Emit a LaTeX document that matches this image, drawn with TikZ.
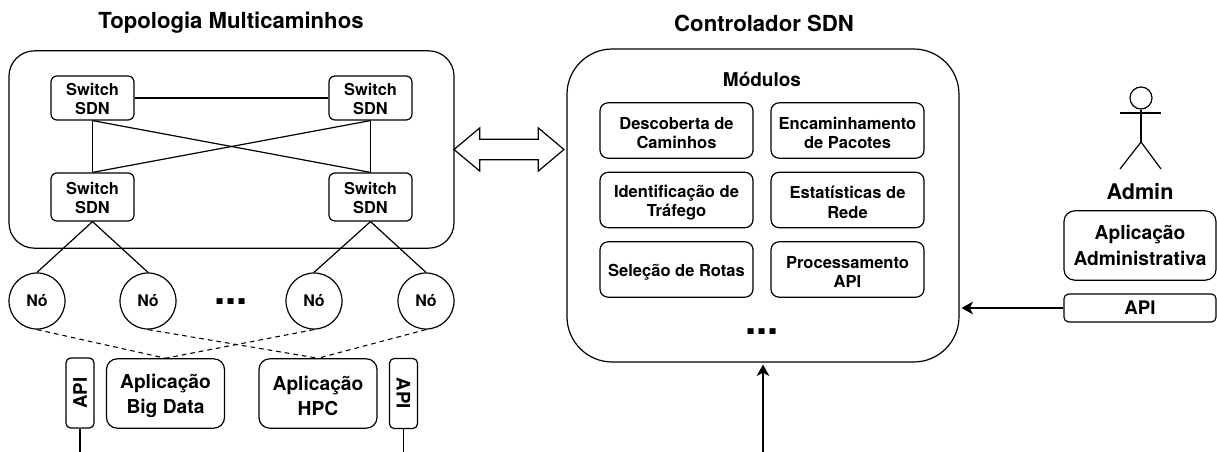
\documentclass[tikz,border=0pt]{standalone}
\usepackage{fontspec}
\setmainfont{TeX Gyre Heros}
\usetikzlibrary{arrows.meta,positioning,calc}
\usetikzlibrary{shapes.arrows}
\newcommand{\lowA}{\rule{0pt}{11pt}}
\newcommand{\lowB}{\rule{0pt}{13pt}}
\newcommand{\lowC}{\rule{0pt}{14.5pt}}
\tikzstyle{tS}=[inner sep=0pt,font=\bfseries\fontsize{16.6}{19}\selectfont]
\tikzstyle{dS}=[inner sep=0pt,font=\bfseries\fontsize{30}{30}\selectfont]
\tikzstyle{bigS}=[rectangle,draw,line width=0.9pt,inner sep=0pt]
\tikzstyle{swS}=[rectangle,draw,line width=0.9pt,rounded corners=4.5pt,inner sep=0pt,align=center,minimum width=62.25pt,font=\bfseries\fontsize{12.3}{14.5}\selectfont]
\tikzstyle{modS}=[rectangle,draw,line width=0.9pt,rounded corners=6pt,inner sep=0pt,align=center,minimum width=114.75pt,minimum height=41.5pt,font=\bfseries\fontsize{12.4}{14.6}\selectfont]
\tikzstyle{appS}=[rectangle,draw,line width=0.9pt,rounded corners=8pt,inner sep=0pt,align=center,minimum height=52pt,font=\bfseries\fontsize{14.4}{19}\selectfont]
\tikzstyle{apiS}=[rectangle,draw,line width=0.9pt,rounded corners=3.5pt,inner sep=0pt,minimum width=52.5pt,minimum height=21pt,font=\bfseries\fontsize{14}{16}\selectfont]
\tikzstyle{nS}=[circle,draw,line width=0.9pt,minimum size=42pt,inner sep=0pt,font=\bfseries\fontsize{12}{14}\selectfont]
\tikzstyle{eS}=[line width=0.9pt]
\tikzstyle{eDash}=[line width=0.8pt,dash pattern=on 3.5pt off 3pt]
\tikzstyle{eArrow}=[line width=0.9pt,-{Stealth[length=8.5pt,width=9.5pt,inset=2.4pt]},shorten >=1.5pt]
\begin{document}
\begin{tikzpicture}[x=0.75pt,y=-0.75pt]
                \useasboundingbox (0,0) rectangle (1217,452);
                % titles
                \draw (231,23) node[tS] (tTopo) {Topologia Multicaminhos};
                \draw (764,23) node[tS] (tCtl) {Controlador SDN};
                % big boxes
                \draw (231.5,149.5) node[bigS,rounded corners=19pt,minimum width=333.75pt,minimum height=148pt] (topo) {};
                \draw (763,205.5) node[bigS,rounded corners=34pt,minimum width=294pt,minimum height=234.75pt] (ctl) {};
                % switches
                \draw (92.5,98) node[swS,minimum height=33pt] (sw0) {\lowA Switch\\SDN};
                \draw (370.5,98) node[swS,minimum height=33pt] (sw1) {\lowA Switch\\SDN};
                \draw (92.5,197) node[swS,minimum height=36pt] (sw2) {\lowA Switch\\SDN};
                \draw (370.5,197) node[swS,minimum height=36pt] (sw3) {\lowA Switch\\SDN};
                % hosts
                \draw (37,301) node[nS] (n0) {Nó};
                \draw (148,301) node[nS] (n1) {Nó};
                \draw (314,301) node[nS] (n2) {Nó};
                \draw (426,301) node[nS] (n3) {Nó};
                \draw (231,302) node[dS] (dots0) {...};
                % applications
                \draw (165.5,393.5) node[appS,minimum width=88.5pt] (appBig) {\lowC Aplicação\\Big Data};
                \draw (318,393.5) node[appS,minimum width=88.5pt] (appHpc) {\lowC Aplicação\\HPC};
                \draw (80,393) node[apiS,rotate=90] (api0) {API};
                \draw (403.5,393.5) node[apiS,rotate=-90] (api1) {API};
                \coordinate (c0) at (80,452);
                \coordinate (c1) at (403.5,452);
                % modules
                \draw (762,79) node[inner sep=0pt,font=\bfseries\fontsize{14.25}{16}\selectfont] (tMod) {Módulos};
                \draw (676.5,130.5) node[modS] (m0) {\lowB Descoberta de\\Caminhos};
                \draw (847.5,130.5) node[modS] (m1) {\lowB Encaminhamento\\de Pacotes};
                \draw (676.5,200) node[modS] (m2) {\lowB Identificação de\\Tráfego};
                \draw (847.5,200) node[modS] (m3) {\lowB Estatísticas de\\Rede};
                \draw (676.5,269.5) node[modS] (m4) {\lowB Seleção de Rotas};
                \draw (847.5,269.5) node[modS] (m5) {\lowB Processamento\\API};
                \draw (762,332) node[dS] (dots1) {...};
                \coordinate (c2) at (763,452);
                % admin
                \draw (1141,98) node[circle,draw,line width=0.9pt,minimum size=16.5pt,inner sep=0pt] (head) {};
                \coordinate (waist) at (1141,142);
                \coordinate (armL) at (1120,113);
                \coordinate (armR) at (1161,113);
                \coordinate (legL) at (1120,169);
                \coordinate (legR) at (1161,169);
                \draw (1140,192) node[inner sep=0pt,font=\bfseries\fontsize{16.2}{19}\selectfont] (tAdm) {Admin};
                \draw (1140,245.5) node[appS,minimum width=114pt] (appAdm) {Aplicação\\Administrativa};
                \draw (1140,308) node[apiS,minimum width=114pt,minimum height=21pt] (api2) {API};
                % double arrow between the boxes
                \draw (509,149.5) node[double arrow,draw,line width=0.9pt,minimum height=82.5pt,minimum width=32.5pt,inner xsep=0pt,inner ysep=5pt,double arrow tip angle=80,double arrow head extend=6pt] (dbl) {};
                \path
                    (sw0) edge[eS] (sw1)
                    (sw0) edge[eS] (sw2)
                    (sw1) edge[eS] (sw3)
                    (sw0.south) edge[eS] (sw3.north)
                    (sw1.south) edge[eS] (sw2.north)
                    (sw2.south) edge[eS] (n0.north)
                    (sw2.south) edge[eS] (n1.north)
                    (sw3.south) edge[eS] (n2.north)
                    (sw3.south) edge[eS] (n3.north)
                    (n0.south) edge[eDash] (appBig.north)
                    (n2.south) edge[eDash] (appBig.north)
                    (n1.south) edge[eDash] (appHpc.north)
                    (n3.south) edge[eDash] (appHpc.north)
                    (api0.west) edge[eS] (c0)
                    (api1.east) edge[eS] (c1)
                    (c2) edge[eArrow] (ctl.south)
                    (api2.west) edge[eArrow] (api2.west -| ctl.east)
                    (head.south) edge[eS] (waist)
                    (armL) edge[eS] (armR)
                    (waist) edge[eS] (legL)
                    (waist) edge[eS] (legR)
                ;
        \end{tikzpicture}
\end{document}
